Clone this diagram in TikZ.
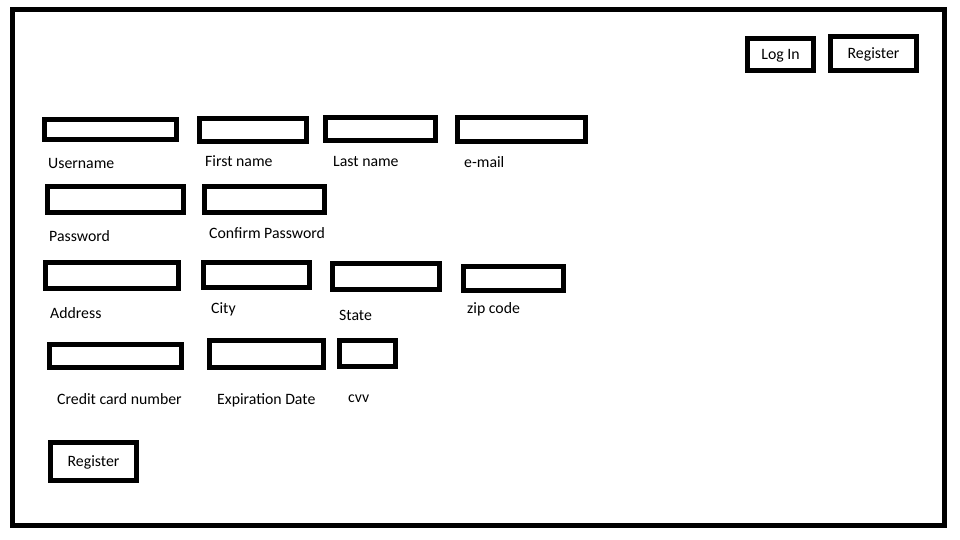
\documentclass[tikz,border=0pt]{standalone}
\usepackage{fontspec}
\setmainfont{Carlito}
\begin{document}
\begin{tikzpicture}[x=1pt,y=-1pt,
    txt/.style={font=\fontsize{15.8}{18}\selectfont, text height=10pt, text depth=0pt},
    field/.style={draw, line width=4.7pt, inner sep=0pt, txt},
    lbl/.style={anchor=west, inner sep=0pt, txt}]
    \useasboundingbox (0,0) rectangle (960,540);
    % Page frame
    \draw [line width=5pt] (12.5,9.5) rectangle (944.5,525.5);
    % Top buttons
    \node [field, minimum width=66pt, minimum height=32pt] (login) at (780.5,54.5) {Log In};
    \node [field, minimum width=86pt, minimum height=34pt] (topreg) at (873.5,53.5) {Register};
    % Row 1
    \node [field, minimum width=132pt, minimum height=20pt] (user) at (110.5,129.5) {};
    \node [field, minimum width=107pt, minimum height=23pt] (first) at (253,130) {};
    \node [field, minimum width=110pt, minimum height=23pt] (last) at (380.5,129) {};
    \node [field, minimum width=128pt, minimum height=24pt] (email) at (521.5,129.5) {};
    \node [lbl] (userlbl) at (48,163.5) {Username};
    \node [lbl] (firstlbl) at (205,161.5) {First name};
    \node [lbl] (lastlbl) at (333,161.5) {Last name};
    \node [lbl] (emaillbl) at (464,162.5) {e-mail};
    % Row 2
    \node [field, minimum width=136pt, minimum height=26pt] (pass) at (115.5,199.5) {};
    \node [field, minimum width=120pt, minimum height=26pt] (confirm) at (264.5,199.5) {};
    \node [lbl] (passlbl) at (49,236) {Password};
    \node [lbl] (confirmlbl) at (209,233) {Confirm Password};
    % Row 3
    \node [field, minimum width=133pt, minimum height=26pt] (addr) at (112,275.5) {};
    \node [field, minimum width=106pt, minimum height=25pt] (city) at (256.5,275) {};
    \node [field, minimum width=107pt, minimum height=26pt] (state) at (386,276.5) {};
    \node [field, minimum width=100pt, minimum height=24pt] (zip) at (513.5,278.5) {};
    \node [lbl] (addrlbl) at (50,313) {Address};
    \node [lbl] (citylbl) at (211,308) {City};
    \node [lbl] (statelbl) at (339,315) {State};
    \node [lbl] (ziplbl) at (467,308) {zip code};
    % Row 4
    \node [field, minimum width=132pt, minimum height=23pt] (card) at (115.5,356) {};
    \node [field, minimum width=114pt, minimum height=27pt] (expiry) at (266.5,354) {};
    \node [field, minimum width=56pt, minimum height=26pt] (cvv) at (367.5,353.5) {};
    \node [lbl] (cardlbl) at (57,399) {Credit card number};
    \node [lbl] (expirylbl) at (217,399) {Expiration Date};
    \node [lbl] (cvvlbl) at (348,397) {cvv};
    % Submit
    \node [field, minimum width=86pt, minimum height=38pt] (submit) at (93.5,461.5) {Register};
\end{tikzpicture}
\end{document}
